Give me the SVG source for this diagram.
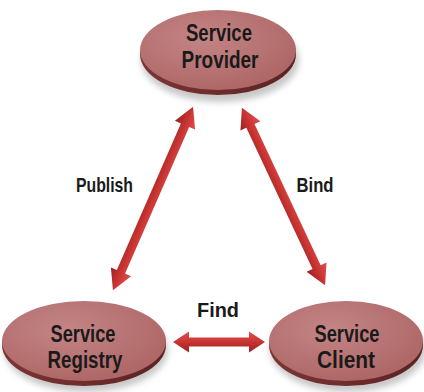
<svg xmlns="http://www.w3.org/2000/svg" width="424" height="392" viewBox="0 0 424 392">
<defs>
<radialGradient id="top" cx="0.4" cy="0.35" r="0.7">
<stop offset="0" stop-color="#c48585"/>
<stop offset="1" stop-color="#ad6565"/>
</radialGradient>
<linearGradient id="rim" x1="0" y1="0" x2="1" y2="0">
<stop offset="0" stop-color="#7a3434"/>
<stop offset="0.5" stop-color="#6e2c2c"/>
<stop offset="1" stop-color="#5a2222"/>
</linearGradient>
<linearGradient id="arr" x1="0" y1="0" x2="0" y2="1">
<stop offset="0" stop-color="#e0504c"/>
<stop offset="0.5" stop-color="#c83432"/>
<stop offset="1" stop-color="#9a2120"/>
</linearGradient>
<filter id="sh" x="-20%" y="-20%" width="140%" height="160%">
<feGaussianBlur stdDeviation="3"/>
</filter>
</defs>
<style>
.lbl{font-family:"Liberation Sans",Arial,sans-serif;font-weight:bold;fill:#1a1a1a;text-anchor:middle}
.nt{font-size:23px}
.et{font-size:21px}
.shadow{fill:#9a9a9a;opacity:0.55}
.rim{fill:url(#rim)}
.top{fill:url(#top)}
.arrow{fill:url(#arr)}
</style>
<g id="provider">
<ellipse class="shadow" cx="220" cy="60" rx="79" ry="42" filter="url(#sh)"/>
<ellipse class="rim" cx="218" cy="54" rx="78" ry="41"/>
<ellipse class="top" cx="218" cy="50" rx="78" ry="40"/>
<text class="lbl nt" x="219" y="41" textLength="66" lengthAdjust="spacingAndGlyphs">Service</text>
<text class="lbl nt" x="220" y="68" textLength="77" lengthAdjust="spacingAndGlyphs">Provider</text>
</g>
<g id="registry">
<ellipse class="shadow" cx="86" cy="350" rx="82" ry="42" filter="url(#sh)"/>
<ellipse class="rim" cx="84" cy="345" rx="82" ry="41"/>
<ellipse class="top" cx="84" cy="341" rx="82" ry="40"/>
<text class="lbl nt" x="83" y="342" textLength="65" lengthAdjust="spacingAndGlyphs">Service</text>
<text class="lbl nt" x="85" y="368" textLength="75" lengthAdjust="spacingAndGlyphs">Registry</text>
</g>
<g id="client">
<ellipse class="shadow" cx="348" cy="350" rx="78" ry="42" filter="url(#sh)"/>
<ellipse class="rim" cx="346" cy="345" rx="77" ry="41"/>
<ellipse class="top" cx="346" cy="341" rx="77" ry="40"/>
<text class="lbl nt" x="347" y="342" textLength="65" lengthAdjust="spacingAndGlyphs">Service</text>
<text class="lbl nt" x="346" y="368" textLength="58" lengthAdjust="spacingAndGlyphs">Client</text>
</g>
<g id="connectors">
<path class="arrow" transform="translate(153,198.5) rotate(113.6)" d="M-100,0 L-80,-11 L-80,-4.5 L80,-4.5 L80,-11 L100,0 L80,11 L80,4.5 L-80,4.5 L-80,11 Z"/>
<path class="arrow" transform="translate(283.5,196.5) rotate(64.9)" d="M-98,0 L-78,-11 L-78,-4.5 L78,-4.5 L78,-11 L98,0 L78,11 L78,4.5 L-78,4.5 L-78,11 Z"/>
<path class="arrow" transform="translate(219,342)" d="M-46,0 L-30,-10.5 L-30,-4.5 L30,-4.5 L30,-10.5 L46,0 L30,10.5 L30,4.5 L-30,4.5 L-30,10.5 Z"/>
<text class="lbl et" x="104.5" y="192" textLength="57" lengthAdjust="spacingAndGlyphs">Publish</text>
<text class="lbl et" x="315" y="192" textLength="37" lengthAdjust="spacingAndGlyphs">Bind</text>
<text class="lbl et" x="218" y="317" textLength="42" lengthAdjust="spacingAndGlyphs">Find</text>
</g>
</svg>
